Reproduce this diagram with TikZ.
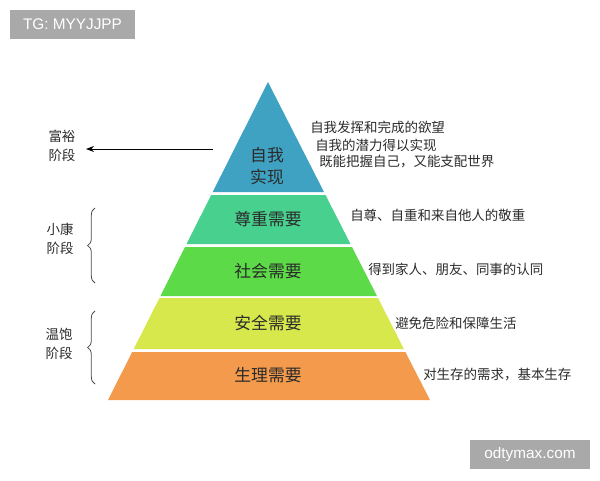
\documentclass[tikz,border=0pt]{standalone}
\usepackage{fontspec}
\newfontfamily\cjk{Noto Sans CJK SC}
\setmainfont{Liberation Sans}
\usetikzlibrary{arrows.meta,decorations.pathreplacing}
\definecolor{cTop}{HTML}{3FA2C2}
\definecolor{cRes}{HTML}{47D08E}
\definecolor{cSoc}{HTML}{5CDA48}
\definecolor{cSaf}{HTML}{D6E84C}
\definecolor{cPhy}{HTML}{F39A4C}
\definecolor{txt}{HTML}{2B2B2B}
\definecolor{wm}{HTML}{A9A9A9}
\tikzset{
  layerlbl/.style={font=\cjk\fontsize{12.6pt}{15pt}\selectfont, text=txt, align=center, inner sep=0pt},
  desc/.style={font=\cjk\fontsize{10.1pt}{13pt}\selectfont, text=txt, anchor=west, inner sep=0pt},
  stage/.style={font=\cjk\fontsize{10.1pt}{13.8pt}\selectfont, text=txt, align=center, inner sep=0pt},
  wmbox/.style={fill=wm, text=white, font=\fontsize{11.5pt}{13pt}\selectfont, inner sep=0pt, minimum height=21.75pt},
  bracestyle/.style={draw=black!70, line width=0.6pt, decorate, decoration={brace, amplitude=5.5}},
}
\begin{document}
\begin{tikzpicture}[x=0.75pt, y=-0.75pt]
\useasboundingbox (0,0) rectangle (600,480);
% pyramid layers
\fill[cTop] (268,82) -- (324,192) -- (212.7,192) -- cycle;
\fill[cRes] (211.2,195) -- (325.5,195) -- (350.5,244) -- (186.5,244) -- cycle;
\fill[cSoc] (185,247) -- (352,247) -- (377,296) -- (160.4,296) -- cycle;
\fill[cSaf] (159.4,298) -- (378,298) -- (403.9,349) -- (133.7,349) -- cycle;
\fill[cPhy] (132.2,352) -- (405.4,352) -- (430,400) -- (108,400) -- cycle;
% layer labels
\node[layerlbl] (l1) at (267,166) {自我\\[1pt]实现};
\node[layerlbl] (l2) at (268,219) {尊重需要};
\node[layerlbl] (l3) at (268,271) {社会需要};
\node[layerlbl] (l4) at (268,323) {安全需要};
\node[layerlbl] (l5) at (268,375) {生理需要};
% descriptions
\node[desc] (d1a) at (310,127) {自我发挥和完成的欲望};
\node[desc] (d1b) at (315,145) {自我的潜力得以实现};
\node[desc] (d1c) at (319,162) {既能把握自己，又能支配世界};
\node[desc] (d2) at (350,215) {自尊、自重和来自他人的敬重};
\node[desc] (d3) at (368,269) {得到家人、朋友、同事的认同};
\node[desc] (d4) at (395,323) {避免危险和保障生活};
\node[desc] (d5) at (423,375) {对生存的需求，基本生存};
% stages
\node[stage] (s1) at (62,146) {富裕\\阶段};
\node[stage] (s2) at (60,239) {小康\\阶段};
\node[stage] (s3) at (59,344) {温饱\\阶段};
\coordinate (arrstart) at (213,149);
\coordinate (arrend) at (86,149);
\draw[-{Stealth[length=6pt,width=4.5pt]}, line width=0.6pt] (arrstart) -- (arrend);
\coordinate (b1a) at (95,283);
\coordinate (b1b) at (95,208);
\coordinate (b2a) at (95,384);
\coordinate (b2b) at (95,311);
\draw[bracestyle] (b1a) -- (b1b);
\draw[bracestyle] (b2a) -- (b2b);
% watermarks
\node[wmbox, minimum width=93.75pt] (wm1) at (72.5,24.5) {TG: MYYJJPP};
\node[wmbox, minimum width=90pt] (wm2) at (530,454.5) {odtymax.com};
\end{tikzpicture}
\end{document}
